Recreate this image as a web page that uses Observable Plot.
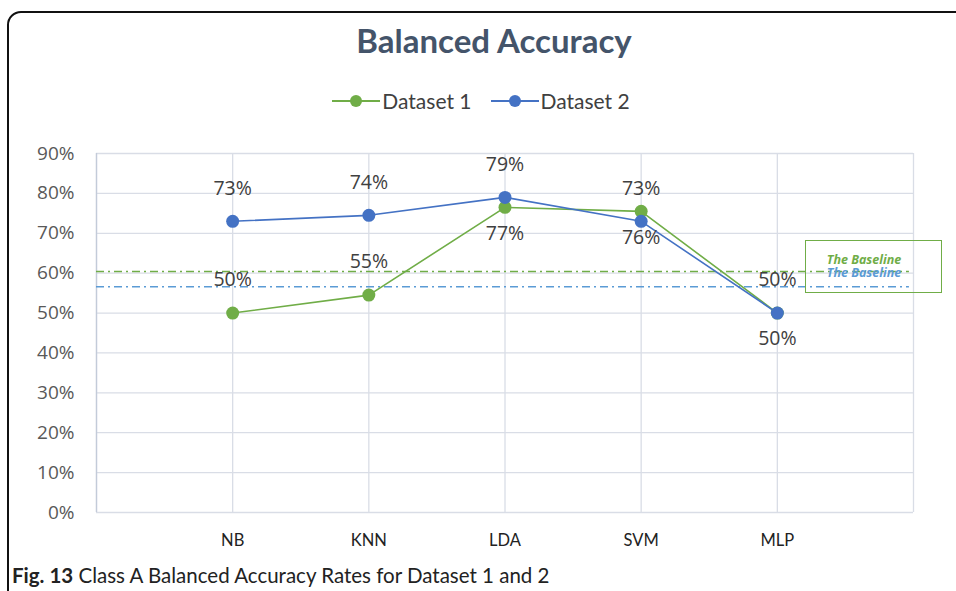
<!DOCTYPE html>
<html>
<head>
<meta charset="utf-8">
<script src="https://cdn.jsdelivr.net/npm/d3@7"></script>
<script src="https://cdn.jsdelivr.net/npm/@observablehq/plot@0.6"></script>
<style>
  html, body { margin: 0; padding: 0; background: #fff; }
  #page { position: relative; width: 956px; height: 591px; overflow: hidden; background: #fff; }
  #frame { position: absolute; left: 7px; top: 11px; width: 1000px; height: 700px; border: 2px solid #111; border-radius: 14px; box-sizing: border-box; }
  #title { position: absolute; left: 0; width: 988px; top: 20px; text-align: center; font-family: Lato, sans-serif; font-weight: bold; font-size: 33px; color: #44546a; }
  #legend { position: absolute; left: 0; width: 962px; top: 88px; display: flex; justify-content: center; gap: 19px; font-family: Lato, sans-serif; font-size: 21px; color: #404040; }
  #legend .item { display: flex; align-items: center; gap: 2px; }
  #chart { position: absolute; left: 0; top: 130px; }
  #baselineBox { position: absolute; left: 805px; top: 240px; width: 137px; height: 53px; border: 1.5px solid #70ad47; box-sizing: border-box; }
  .bl { position: absolute; left: 0; width: 116px; text-align: center; font-family: "Open Sans", sans-serif; font-style: italic; font-weight: bold; font-size: 12.5px; line-height: 14px; }
  #caption { position: absolute; left: 12px; top: 563px; font-family: Lato, sans-serif; font-size: 20.5px; color: #222; }
</style>
</head>
<body>
<div id="page">
  <div id="frame"></div>
  <div id="title"></div>
  <div id="legend"></div>
  <div id="chart"></div>
  <div id="baselineBox"></div>
  <div id="caption"></div>
</div>
<script>
// ---- Data ----
const titleText = "Balanced Accuracy";
const seriesNames = ["Dataset 1", "Dataset 2"];
const categories = ["NB", "KNN", "LDA", "SVM", "MLP"];
const dataset1 = [0.50, 0.545, 0.765, 0.755, 0.50];
const dataset2 = [0.73, 0.745, 0.79, 0.73, 0.50];
const labels1 = ["50%", "55%", "77%", "76%", "50%"];
const labels2 = ["73%", "74%", "79%", "73%", "50%"];
const labelSide1 = ["above", "above", "below", "below", "above"];
const labelSide2 = ["above", "above", "above", "above", "below"];
const baselines = [0.604, 0.566];
const baselineText = "The Baseline";
const yTicks = [0, 0.1, 0.2, 0.3, 0.4, 0.5, 0.6, 0.7, 0.8, 0.9];
const captionBold = "Fig. 13";
const captionText = " Class A Balanced Accuracy Rates for Dataset 1 and 2";

const colors = ["#70ad47", "#4472c4"];
const baselineColors = ["#70ad47", "#5b9bd5"];

// ---- Build rows ----
const rows = [];
[dataset1, dataset2].forEach((vals, s) => {
  const labs = s === 0 ? labels1 : labels2;
  const sides = s === 0 ? labelSide1 : labelSide2;
  vals.forEach((v, i) => rows.push({series: seriesNames[s], idx: i + 1, value: v, label: labs[i], side: sides[i]}));
});
const xSlots = d3.range(0, categories.length + 2);

const chart = Plot.plot({
  width: 956,
  height: 440,
  marginLeft: 96,
  marginRight: 43,
  marginTop: 23,
  marginBottom: 58,
  style: {background: "transparent", overflow: "visible"},
  x: {domain: [0, categories.length + 1], axis: null},
  y: {domain: [0, 0.9], axis: null},
  color: {domain: seriesNames, range: colors},
  marks: [
    Plot.gridY(yTicks, {stroke: "#d9dde6", strokeOpacity: 1, strokeWidth: 1.3}),
    Plot.gridX(xSlots, {stroke: "#d9dde6", strokeOpacity: 1, strokeWidth: 1.3}),
    Plot.ruleX([0], {stroke: "#c3cbd9", strokeWidth: 1.3}),
    Plot.axisY(yTicks, {label: null, tickSize: 0, tickPadding: 22, tickFormat: d3.format(".0%"), fontSize: 19, fill: "#595959", fontFamily: "Open Sans, sans-serif"}),
    Plot.axisX(d3.range(1, categories.length + 1), {label: null, tickSize: 0, tickPadding: 22, tickFormat: i => categories[i - 1], fontSize: 16.5, fill: "#222", fontFamily: "Lato, sans-serif"}),
    Plot.ruleY([baselines[0]], {stroke: baselineColors[0], strokeWidth: 1.6, strokeDasharray: "8,4,2,4", x1: 0, x2: categories.length + 0.97}),
    Plot.ruleY([baselines[1]], {stroke: baselineColors[1], strokeWidth: 1.6, strokeDasharray: "8,4,2,4", x1: 0, x2: categories.length + 0.97}),
    Plot.line(rows, {x: "idx", y: "value", z: "series", stroke: "series", strokeWidth: 1.6}),
    Plot.dot(rows, {x: "idx", y: "value", fill: "series", r: 6.5}),
    Plot.text(rows.filter(d => d.side === "above"), {x: "idx", y: "value", text: "label", dy: -33, fontSize: 19.5, fill: "#404040", fontFamily: "Open Sans, sans-serif"}),
    Plot.text(rows.filter(d => d.side === "below"), {x: "idx", y: "value", text: "label", dy: 26, fontSize: 19.5, fill: "#404040", fontFamily: "Open Sans, sans-serif"})
  ]
});
document.getElementById("chart").appendChild(chart);

document.getElementById("title").textContent = titleText;

// Legend
const legend = document.getElementById("legend");
seriesNames.forEach((name, s) => {
  const item = document.createElement("div");
  item.className = "item";
  item.innerHTML = `<svg width="48" height="14"><line x1="0" y1="7" x2="48" y2="7" stroke="${colors[s]}" stroke-width="2"/><circle cx="24" cy="7" r="6" fill="${colors[s]}"/></svg><span>${name}</span>`;
  legend.appendChild(item);
});

// Baseline annotation box
const box = document.getElementById("baselineBox");
baselineColors.forEach((c, i) => {
  const t = document.createElement("div");
  t.className = "bl";
  t.style.color = c;
  t.style.top = (12 + i * 13) + "px";
  t.textContent = baselineText;
  box.appendChild(t);
});

document.getElementById("caption").innerHTML = `<b>${captionBold}</b>${captionText}`;
</script>
</body>
</html>
